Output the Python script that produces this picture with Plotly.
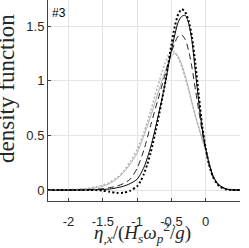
import plotly.graph_objects as go

# ---- data ----
x_solid_black = [-2.3, -1.8, -1.6, -1.4, -1.3, -1.2, -1.1, -1.0, -0.9, -0.8, -0.7, -0.6, -0.5, -0.4, -0.35, -0.3,
                 -0.25, -0.2, -0.15, -0.1, -0.05, 0.0, 0.05, 0.1, 0.15, 0.2, 0.3, 0.4, 0.5]
y_solid_black = [0, 0, 0.003, 0.01, 0.02, 0.035, 0.06, 0.1, 0.21, 0.4, 0.66, 0.95, 1.28, 1.54, 1.59, 1.60,
                 1.53, 1.36, 1.08, 0.80, 0.56, 0.38, 0.24, 0.14, 0.08, 0.045, 0.01, 0.002, 0]

x_dot_black = [-2.3, -1.6, -1.5, -1.4, -1.3, -1.2, -1.1, -1.0, -0.95, -0.9, -0.85, -0.8, -0.7, -0.6, -0.5, -0.45,
               -0.4, -0.35, -0.3, -0.25, -0.2, -0.15, -0.1, -0.05, 0.0, 0.05, 0.1, 0.15, 0.2, 0.3, 0.4, 0.5]
y_dot_black = [0, 0, -0.005, -0.015, -0.025, -0.025, -0.005, 0.035, 0.08, 0.15, 0.24, 0.35, 0.63, 0.95, 1.33, 1.5,
               1.61, 1.655, 1.63, 1.55, 1.4, 1.15, 0.86, 0.58, 0.38, 0.23, 0.13, 0.07, 0.035, 0.006, 0, 0]

x_dash_black = [-2.3, -1.8, -1.6, -1.5, -1.4, -1.3, -1.2, -1.1, -1.0, -0.9, -0.8, -0.7, -0.6, -0.5, -0.45, -0.4,
                -0.35, -0.3, -0.25, -0.2, -0.15, -0.1, -0.05, 0.0, 0.05, 0.1, 0.15, 0.2, 0.3, 0.4, 0.5]
y_dash_black = [0, 0.002, 0.008, 0.014, 0.022, 0.035, 0.06, 0.1, 0.2, 0.37, 0.6, 0.82, 1.04, 1.26, 1.35, 1.41,
                1.42, 1.38, 1.28, 1.12, 0.92, 0.72, 0.53, 0.37, 0.23, 0.13, 0.075, 0.04, 0.008, 0.001, 0]

x_solid_gray = [-2.3, -2.0, -1.8, -1.7, -1.6, -1.5, -1.4, -1.3, -1.2, -1.1, -1.0, -0.9, -0.8, -0.7, -0.6, -0.55,
                -0.5, -0.45, -0.4, -0.35, -0.3, -0.25, -0.2, -0.15, -0.1, -0.05, 0.0, 0.05, 0.1, 0.15, 0.2, 0.3,
                0.4, 0.5]
y_solid_gray = [0, 0.002, 0.008, 0.013, 0.022, 0.035, 0.06, 0.1, 0.16, 0.24, 0.34, 0.5, 0.68, 0.88, 1.07, 1.16,
                1.23, 1.25, 1.22, 1.15, 1.05, 0.93, 0.8, 0.68, 0.57, 0.46, 0.37, 0.24, 0.14, 0.08, 0.04, 0.008,
                0.001, 0]

x_dot_gray = [-2.3, -2.0, -1.8, -1.7, -1.6, -1.5, -1.4, -1.3, -1.2, -1.1, -1.0, -0.9, -0.8, -0.7, -0.6, -0.55,
              -0.5, -0.45, -0.4, -0.35, -0.3, -0.25, -0.2, -0.15, -0.1, -0.05, 0.0, 0.05, 0.1, 0.15, 0.2, 0.3,
              0.4, 0.5]
y_dot_gray = [0, 0.003, 0.01, 0.018, 0.03, 0.045, 0.07, 0.11, 0.17, 0.26, 0.37, 0.53, 0.73, 0.95, 1.15, 1.23,
              1.27, 1.26, 1.21, 1.13, 1.03, 0.92, 0.8, 0.68, 0.57, 0.46, 0.37, 0.24, 0.14, 0.08, 0.04, 0.008,
              0.001, 0]

x_tickvals = [-2, -1.5, -1, -0.5, 0, 0.5]
x_ticktext = ["-2", "-1.5", "-1", "-0.5", "0", "0.5"]
y_tickvals = [0, 0.5, 1, 1.5]
y_ticktext = ["0", "0.5", "1", "1.5"]

panel_label = "#3"
y_title = "density function"
x_title = ("<i>η</i><sub>,<i>x</i></sub>/(<i>H</i><sub><i>s</i></sub><i>ω</i>"
           "<sub><i>p</i></sub><sup>2</sup>/<i>g</i>)")

fig = go.Figure()

SM = 0.7
fig.add_trace(go.Scatter(x=x_dot_gray, y=y_dot_gray, mode="lines",
                         line=dict(color="#b5b5b5", width=1.6, dash="2px,2px", shape="spline", smoothing=SM)))
fig.add_trace(go.Scatter(x=x_solid_gray, y=y_solid_gray, mode="lines",
                         line=dict(color="#b0b0b0", width=1, shape="spline", smoothing=SM)))
fig.add_trace(go.Scatter(x=x_dash_black, y=y_dash_black, mode="lines",
                         line=dict(color="#222222", width=1, dash="6px,4px", shape="spline", smoothing=SM)))
fig.add_trace(go.Scatter(x=x_solid_black, y=y_solid_black, mode="lines",
                         line=dict(color="#000000", width=1, shape="spline", smoothing=SM)))
fig.add_trace(go.Scatter(x=x_dot_black, y=y_dot_black, mode="lines",
                         line=dict(color="#000000", width=2, dash="2px,2.3px", shape="spline", smoothing=SM)))

fig.update_layout(
    width=249, height=248,
    margin=dict(l=48, r=9, t=0, b=47, autoexpand=False),
    paper_bgcolor="white", plot_bgcolor="white",
    showlegend=False,
    font=dict(family="Liberation Sans, Arial, sans-serif", size=13, color="#262626"),
)
fig.update_xaxes(range=[-2.3, 0.5], tickvals=x_tickvals, ticktext=x_ticktext, automargin=False,
                 showgrid=True, gridcolor="#e4e4e4", gridwidth=1, zeroline=False,
                 showline=True, linecolor="#404040", linewidth=1, mirror=False,
                 ticks="inside", ticklen=3, tickcolor="#404040",
                 ticklabelstandoff=8, tickfont=dict(size=13, color="#262626"))
fig.update_yaxes(range=[-0.1, 1.74], tickvals=y_tickvals, ticktext=y_ticktext, automargin=False,
                 showgrid=True, gridcolor="#e4e4e4", gridwidth=1, zeroline=False,
                 showline=True, linecolor="#404040", linewidth=1, mirror=False,
                 ticks="inside", ticklen=3, tickcolor="#404040",
                 tickfont=dict(size=13, color="#262626"))

fig.add_annotation(text=panel_label, xref="paper", yref="paper", x=0, y=1,
                   xanchor="left", yanchor="top", xshift=2, yshift=-4, showarrow=False,
                   font=dict(family="Liberation Sans, Arial, sans-serif", size=12, color="#000000"))
fig.add_annotation(text=y_title, xref="paper", yref="paper", x=-0.216, y=0.56,
                   xanchor="center", yanchor="middle", textangle=-90, showarrow=False,
                   font=dict(family="Liberation Serif, serif", size=23, color="#262626"))
fig.add_annotation(text=x_title, xref="paper", yref="paper", x=0.49, y=-0.235,
                   xanchor="center", yanchor="bottom", showarrow=False,
                   font=dict(family="Liberation Serif, serif", size=19, color="#262626"))

fig.write_html("out.html", config={"displayModeBar": False},
               post_script="document.body.style.margin='0';document.body.style.padding='0';")
